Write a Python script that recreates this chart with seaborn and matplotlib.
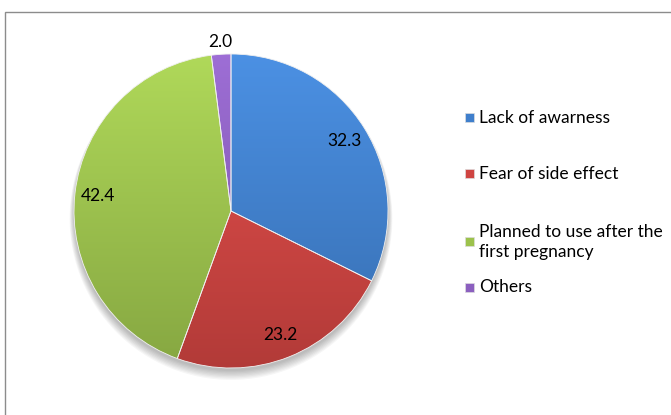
import numpy as np
import matplotlib
matplotlib.use("Agg")
import matplotlib.pyplot as plt
import seaborn as sns
from matplotlib.patches import Rectangle, Circle
from matplotlib.colors import to_rgb

categories = ["Lack of awarness", "Fear of side effect",
              "Planned to use after the\nfirst pregnancy", "Others"]
values = [32.3, 23.2, 42.4, 2.0]
value_labels = ["32.3", "23.2", "42.4", "2.0"]
colors = ["#3f7fcc", "#cf4441", "#9cc24c", "#8b5fbf"]

sns.set_theme(style="white")
plt.rcParams["font.family"] = ["Lato", "DejaVu Sans"]

fig = plt.figure(figsize=(6.71, 4.15), dpi=100)
fig.patch.set_facecolor("white")

# outer border
fig.patches.append(Rectangle((5 / 671, -0.05), 2.0, (415 - 12) / 415 + 0.05,
                             transform=fig.transFigure, fill=False,
                             edgecolor="#8c8c8c", linewidth=1.0))

cx, cy, r = 231, 211, 157
ax = fig.add_axes([(cx - r) / 671, (415 - cy - r) / 415, 2 * r / 671, 2 * r / 415])

# soft shadow
for k in range(8):
    ax.add_patch(Circle((0.0, -0.02 - 0.004 * k), 1.0 + 0.004 * k,
                        facecolor="black", alpha=0.035, edgecolor="none",
                        zorder=0, clip_on=False))

wedges, _ = ax.pie(values, colors=colors, startangle=90, counterclock=False,
                   radius=1.0, wedgeprops=dict(edgecolor="#f0f0f0", linewidth=0.6))
ax.set_xlim(-1.0, 1.0)
ax.set_ylim(-1.0, 1.0)
ax.set_aspect("equal")
ax.axis("off")

# gradient shading for each slice
yy = np.linspace(1, 0, 256)[:, None]
for w, c in zip(wedges, colors):
    w.set_clip_on(False)
    base = np.array(to_rgb(c))
    light = np.clip(base * 1.08 + 0.03, 0, 1)
    dark = base * 0.86
    grad = light[None, None, :] * yy[..., None] + dark[None, None, :] * (1 - yy[..., None])
    grad = np.repeat(grad, 4, axis=1)
    im = ax.imshow(grad, extent=(-1.01, 1.01, -1.01, 1.01), zorder=w.get_zorder() + 0.1,
                   aspect="auto", interpolation="bilinear")
    im.set_clip_path(w)
    w.set_zorder(w.get_zorder() + 0.2)
    w.set_facecolor("none")
ax.set_xlim(-1.0, 1.0)
ax.set_ylim(-1.0, 1.0)

for w, lab, v in zip(wedges, value_labels, values):
    ang = np.deg2rad((w.theta1 + w.theta2) / 2)
    d = 1.08 if v < 5 else 0.85
    ax.text(d * np.cos(ang), d * np.sin(ang), lab, ha="center", va="center",
            fontsize=12.5, color="black", zorder=10, clip_on=False)

# legend
leg_rows = [118, 174, 242, 287]
for cat, c, yc in zip(categories, colors, leg_rows):
    fig.patches.append(Rectangle((465 / 671, (415 - yc - 4.5) / 415), 9 / 671, 9 / 415,
                                 transform=fig.transFigure, facecolor=c,
                                 edgecolor="#dddddd", linewidth=0.5))
    fig.text(479 / 671, (415 - yc) / 415, cat, ha="left", va="center",
             fontsize=12.5, color="black", linespacing=1.25)

fig.savefig("out.png", dpi=100, facecolor="white")
